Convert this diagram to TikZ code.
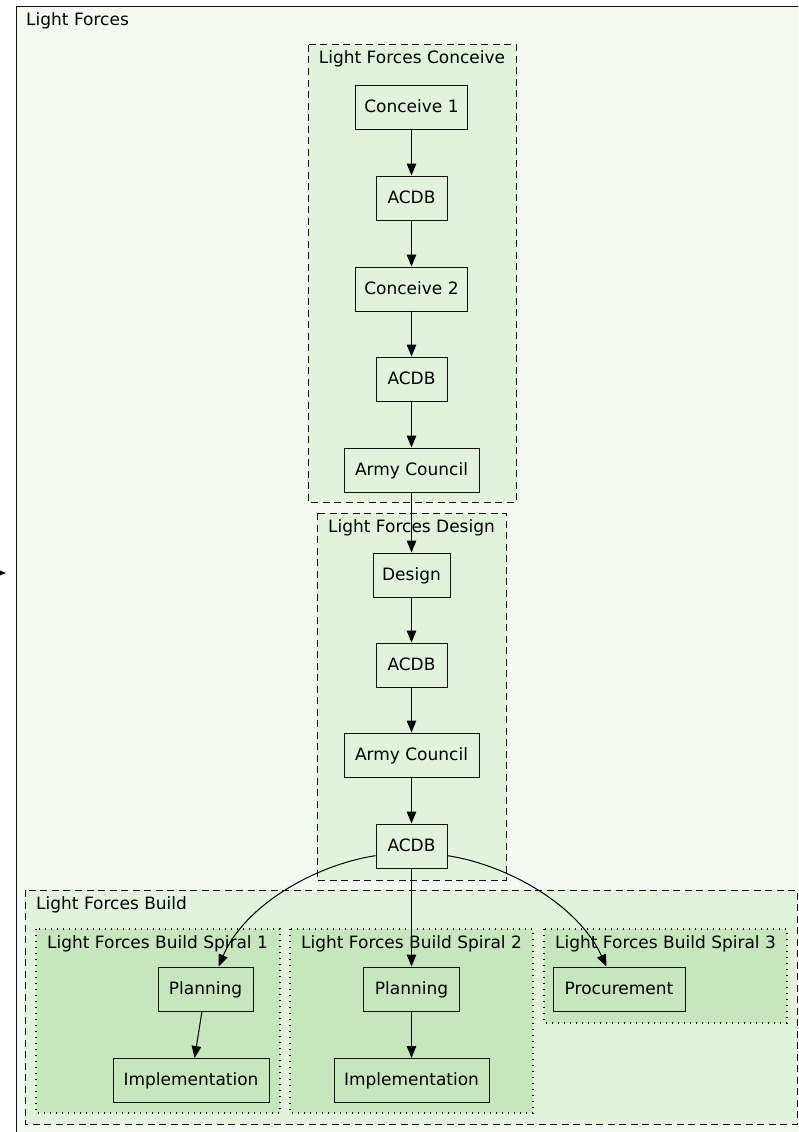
\documentclass[tikz,border=0pt]{standalone}
\usepackage{fontspec}
\setmainfont{DejaVu Sans}
\usetikzlibrary{arrows.meta}
\definecolor{outerbg}{HTML}{F4F9F2}
\definecolor{clusterbg}{HTML}{E2F3DC}
\definecolor{spiralbg}{HTML}{C6E6BE}
\definecolor{edgeblack}{HTML}{111111}
\tikzset{
  stepbox/.style={draw=edgeblack, line width=1pt, rectangle, minimum height=44pt,
    inner sep=0pt, text height=12.5pt, text depth=1.6pt,
    font=\fontsize{17}{20}\selectfont},
  clusterlbl/.style={anchor=base, inner sep=0pt, font=\fontsize{17}{20}\selectfont},
  dashbox/.style={draw=edgeblack, line width=1pt, dash pattern=on 7pt off 4.5pt, fill=clusterbg},
  dotbox/.style={draw=edgeblack, line width=1.2pt, dash pattern=on 1.2pt off 4.8pt, fill=spiralbg},
  arr/.style={draw=black, line width=1pt, -{Triangle[length=12pt,width=9.5pt]}},
}
\begin{document}
\begin{tikzpicture}[x=1pt,y=-1pt]
\useasboundingbox (0,0) rectangle (798,1132);
\clip (0,0) rectangle (798,1132);

% outer cluster
\draw[line width=1pt, draw=edgeblack, fill=outerbg] (16,7) rectangle (830,1160);
\node[clusterlbl, anchor=base west] (lblOuter) at (26,25.5) {Light Forces};

% stray incoming edge on the left border
\coordinate (strayfrom) at (-30,573);
\coordinate (strayto) at (6,573);
\draw[arr] (strayfrom) -- (strayto);

% Conceive cluster
\draw[dashbox] (308,45) rectangle (516,502);
\node[clusterlbl] (lblConceive) at (412,63.5) {Light Forces Conceive};

% Design cluster
\draw[dashbox] (317,513) rectangle (506,880);
\node[clusterlbl] (lblDesign) at (411.5,532) {Light Forces Design};

% Build cluster
\draw[dashbox] (25,890) rectangle (797,1124);
\node[clusterlbl, anchor=base west] (lblBuild) at (36,909) {Light Forces Build};

% Build spirals
\draw[dotbox] (36,929) rectangle (280,1113);
\node[clusterlbl] (lblSp1) at (157.5,948) {Light Forces Build Spiral 1};
\draw[dotbox] (290,929) rectangle (533,1113);
\node[clusterlbl] (lblSp2) at (411.5,948) {Light Forces Build Spiral 2};
\draw[dotbox] (544,929) rectangle (787,1023);
\node[clusterlbl] (lblSp3) at (665.5,948) {Light Forces Build Spiral 3};

% nodes
\node[stepbox, minimum width=112pt] (con1) at (411.5,107) {Conceive 1};
\node[stepbox, minimum width=71pt] (acdb1) at (411.5,198) {ACDB};
\node[stepbox, minimum width=112pt] (con2) at (411.5,289) {Conceive 2};
\node[stepbox, minimum width=71pt] (acdb2) at (411.5,379) {ACDB};
\node[stepbox, minimum width=135pt] (army1) at (411.5,470) {Army Council};

\node[stepbox, minimum width=77pt] (design) at (411.5,575) {Design};
\node[stepbox, minimum width=71pt] (acdb3) at (411.5,665) {ACDB};
\node[stepbox, minimum width=135pt] (army2) at (411.5,755) {Army Council};
\node[stepbox, minimum width=71pt] (acdb4) at (411.5,846) {ACDB};

\node[stepbox, minimum width=95pt] (plan1) at (205.5,989) {Planning};
\node[stepbox, minimum width=156pt] (impl1) at (191,1080.5) {Implementation};
\node[stepbox, minimum width=96pt] (plan2) at (411.5,989) {Planning};
\node[stepbox, minimum width=155pt] (impl2) at (411.5,1080.5) {Implementation};
\node[stepbox, minimum width=132pt] (proc) at (619,989) {Procurement};

% connectors
\draw[arr] (con1) -- (acdb1);
\draw[arr] (acdb1) -- (con2);
\draw[arr] (con2) -- (acdb2);
\draw[arr] (acdb2) -- (army1);
\draw[arr] (army1) -- (design);
\draw[arr] (design) -- (acdb3);
\draw[arr] (acdb3) -- (army2);
\draw[arr] (army2) -- (acdb4);
\draw[arr] (acdb4) -- (plan2);
\draw[arr] (acdb4.-165) .. controls (315,865) and (245,905) .. (plan1.60);
\draw[arr] (acdb4.-15) .. controls (508,865) and (578,905) .. (proc.119);
\draw[arr] (plan1) -- (impl1);
\draw[arr] (plan2) -- (impl2);
\end{tikzpicture}
\end{document}
